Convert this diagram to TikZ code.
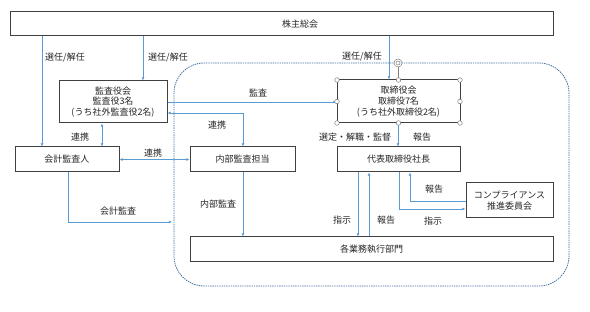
\documentclass[tikz,border=0pt]{standalone}
\usepackage{fontspec}
\newfontfamily\jp{Noto Sans CJK JP}
\usetikzlibrary{arrows.meta}
\definecolor{arrblue}{HTML}{5B9BD5}
\definecolor{dashblue}{HTML}{41719C}
\definecolor{boxgray}{HTML}{404040}
\definecolor{txtgray}{HTML}{262626}
\begin{document}
\begin{tikzpicture}[x=1pt,y=-1pt,
  every node/.style={font=\jp\fontsize{9}{10.8}\selectfont, text=txtgray},
  box/.style={draw=boxgray, line width=1pt, inner sep=0pt, align=center, fill=white},
  arr/.style={draw=arrblue, line width=0.6pt, -{Latex[length=3.2pt,width=3pt]}},
  darr/.style={draw=arrblue, line width=0.6pt, {Latex[length=3.2pt,width=3pt]}-{Latex[length=3.2pt,width=3pt]}},
  lbl/.style={inner sep=0pt},
  handle/.style={draw=gray, fill=white, line width=0.5pt}
]
\useasboundingbox[fill=white] (0,0) rectangle (590,312);

% dashed region
\draw[dashblue, line width=0.8pt, dash pattern=on 1.4pt off 0.9pt, rounded corners=30pt] (174,63) rectangle (569,286);

% boxes
\node[box, minimum width=543pt, minimum height=24pt] (top) at (281.5,24) {};
\node[lbl] at (300,24) {株主総会};
\node[box, minimum width=108pt, minimum height=42pt] (kansa) at (113,102) {監査役会\\監査役3名\\(うち社外監査役2名)};
\node[box, minimum width=104pt, minimum height=25pt] (kaikei) at (67,159.5) {会計監査人};
\node[box, minimum width=105pt, minimum height=25pt] (naibu) at (242.5,159.5) {内部監査担当};
\node[box, minimum width=123pt, minimum height=43pt] (tori) at (398.5,101.5) {取締役会\\取締役7名\\(うち社外取締役2名)};
\node[box, minimum width=123pt, minimum height=25pt] (daihyo) at (398.5,159.5) {代表取締役社長};
\node[box, minimum width=87pt, minimum height=35pt] (comp) at (509.5,200.5) {コンプライアンス\\推進委員会};
\node[box, minimum width=363pt, minimum height=25pt] (gyomu) at (371.5,249.5) {各業務執行部門};

% connectors
\draw[arr] (42,0 |- top.south) -- (42,0 |- kaikei.north);
\draw[arr] (143,0 |- top.south) -- (143,0 |- kansa.north);
\draw[arr] (389,0 |- top.south) -- (389,0 |- tori.north);
\draw[arr] (kansa.east |- 0,102) -- (tori.west |- 0,102);
\draw[darr] (kansa.east |- 0,113) -- (243,113) -- (243,0 |- naibu.north);
\draw[darr] (102,0 |- kansa.south) -- (102,0 |- kaikei.north);
\draw[darr] (kaikei.east) -- (naibu.west);
\coordinate (kaend) at (172,222);
\draw[arr] (68,0 |- kaikei.south) -- (68,222) -- (kaend);
\draw[arr] (243,0 |- naibu.south) -- (243,0 |- gyomu.north);
\draw[arr] (398,0 |- tori.south) -- (398,0 |- daihyo.north);
\draw[arr] (358,0 |- daihyo.south) -- (358,0 |- gyomu.north);
\draw[arr] (369,0 |- gyomu.north) -- (369,0 |- daihyo.south);
\draw[arr] (comp.west |- 0,201) -- (410,201) -- (410,0 |- daihyo.south);
\draw[arr] (399,0 |- daihyo.south) -- (399,209) -- (comp.west |- 0,209);

% labels
\node[lbl] at (65,58) {選任/解任};
\node[lbl] at (168,58) {選任/解任};
\node[lbl] at (362,57) {選任/解任};
\node[lbl] at (258,93) {監査};
\node[lbl] at (217,125) {連携};
\node[lbl] at (80,137) {連携};
\node[lbl] at (153,153) {連携};
\node[lbl] at (118,211) {会計監査};
\node[lbl] at (218,204) {内部監査};
\node[lbl] at (355,137) {選定・解職・監督};
\node[lbl] at (422,137) {報告};
\node[lbl] at (342,220) {指示};
\node[lbl] at (386,220) {報告};
\node[lbl] at (434,189) {報告};
\node[lbl] at (433,221) {指示};

% selection handles on 取締役会
\draw[gray, line width=0.5pt] (398,67) -- (398,80);
\draw[handle] (398,63) circle (4pt);
\draw[gray, line width=0.5pt] (398,63) circle (2pt);
\foreach \p in {(337,80),(398.5,80),(460,80),(337,101.5),(460,101.5),(337,123),(398.5,123),(460,123)}
  \draw[handle] \p circle (2.3pt);
\end{tikzpicture}
\end{document}
